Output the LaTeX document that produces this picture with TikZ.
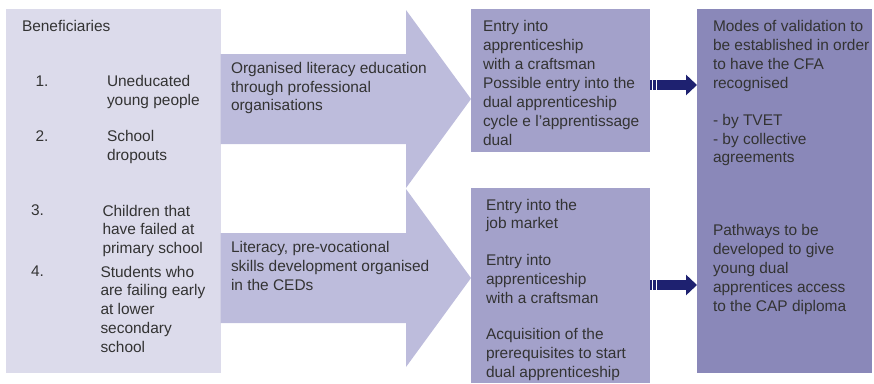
\documentclass[tikz,border=0pt]{standalone}
\usepackage{fontspec}
\setmainfont{Liberation Sans}
\usetikzlibrary{arrows.meta}
\definecolor{paleback}{HTML}{DCDBEB}
\definecolor{flowfill}{HTML}{BDBCDC}
\definecolor{midfill}{HTML}{A3A1CA}
\definecolor{endfill}{HTML}{8A88B9}
\definecolor{navy}{HTML}{1E2170}
\definecolor{ink}{HTML}{333333}
\newcommand{\bodyfont}{\fontsize{15.45pt}{18.9pt}\selectfont}

\begin{document}
\begin{tikzpicture}[x=1pt,y=-1pt,
  panel/.style={anchor=north west, inner sep=0pt, outer sep=0pt, draw=none},
  txt/.style={anchor=north west, inner sep=0pt, outer sep=0pt, align=left,
              font=\bodyfont, text=ink},
  flow/.style={fill=flowfill},
  link/.style={navy, line width=10pt,
               dash pattern=on 2.3pt off 1pt on 2.4pt off 1.6pt on 300pt off 1pt,
               -{Triangle[length=11pt,width=20pt]}}
]
\useasboundingbox (0,0) rectangle (874,383);

% panels
\node[panel, fill=paleback, minimum width=214.5pt, minimum height=364pt] (L)  at (6,9) {};
\node[panel, fill=midfill,  minimum width=179pt,   minimum height=143pt] (M1) at (471,9) {};
\node[panel, fill=midfill,  minimum width=179pt,   minimum height=195pt] (M2) at (471,188) {};
\node[panel, fill=endfill,  minimum width=175pt,   minimum height=364pt] (R)  at (697,9) {};

% broad flow arrows from the beneficiaries to the outcomes
\fill[flow] (L.east |- 0,54) -- (406,54) -- (406,10) -- (M1.west |- 0,99)
  -- (406,188) -- (406,144) -- (L.east |- 0,144) -- cycle;
\fill[flow] (L.east |- 0,233) -- (406,233) -- (406,189) -- (M2.west |- 0,278)
  -- (406,367) -- (406,323) -- (L.east |- 0,323) -- cycle;

% links to the validation panel
\coordinate (y1) at (0,85);
\coordinate (y2) at (0,285);
\draw[link] (M1.east |- y1) -- (R.west |- y1);
\draw[link] (M2.east |- y2) -- (R.west |- y2);

% beneficiaries
\node[txt] (ben) at (22,20.8) {Beneficiaries};
\node[txt] (n1) at (35.5,75.8) {1.};
\node[txt] (t1) at (107,75.8) {Uneducated\\young people};
\node[txt] (n2) at (35.5,130.8) {2.};
\node[txt] (t2) at (107,130.8) {School\\dropouts};
\node[txt] (n3) at (31,204.8) {3.};
\node[txt] (t3) at (102.5,204.8) {Children that\\have failed at\\primary school};
\node[txt] (n4) at (31,265.8) {4.};
\node[txt] (t4) at (100.5,265.8) {Students who\\are failing early\\at lower\\secondary\\school};

% programmes
\node[txt] (p1) at (231,62) {Organised literacy education\\through professional\\organisations};
\node[txt] (p2) at (231,241) {Literacy, pre-vocational\\skills development organised\\in the CEDs};

% outcomes
\node[txt] (o1) at (483,20.8) {Entry into\\apprenticeship\\with a craftsman\\Possible entry into the\\dual apprenticeship\\cycle e l’apprentissage\\dual};
\node[txt] (o2) at (486,198.8) {Entry into the\\job market\\[17.6pt]Entry into\\apprenticeship\\with a craftsman\\[17.6pt]Acquisition of the\\prerequisites to start\\dual apprenticeship};

% validation
\node[txt] (v1) at (713,20.8) {Modes of validation to\\be established in order\\to have the CFA\\recognised\\[17.6pt]- by TVET\\- by collective\\agreements};
\node[txt] (v2) at (713,224.3) {Pathways to be\\developed to give\\young dual\\apprentices access\\to the CAP diploma};
\end{tikzpicture}
\end{document}
